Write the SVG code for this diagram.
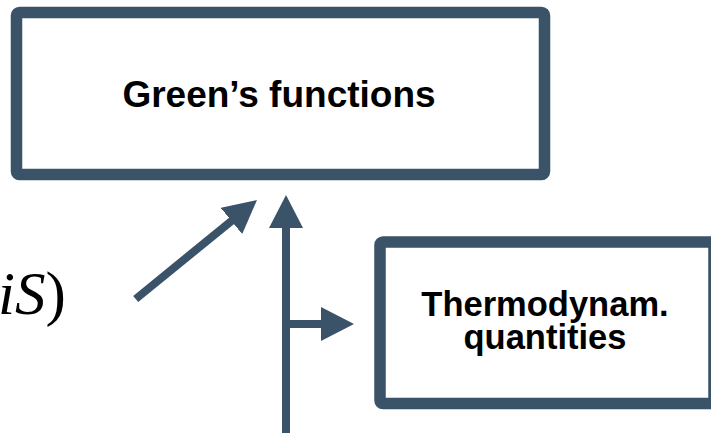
<svg xmlns="http://www.w3.org/2000/svg" width="711" height="433" viewBox="0 0 711 433">
  <style>
    .box { fill: #ffffff; stroke: #3a5369; stroke-width: 11.5; }
    .label { font-family: "Liberation Sans", Arial, sans-serif; font-weight: bold; fill: #000000; text-anchor: middle; }
    .edge { stroke: #3a5369; stroke-width: 8; fill: none; }
    .math { font-family: "Liberation Serif", "Times New Roman", serif; fill: #000000; }
  </style>
  <defs>
    <marker id="head" viewBox="0 0 33 34" markerUnits="userSpaceOnUse" markerWidth="33" markerHeight="34" refX="1" refY="17" orient="auto">
      <path d="M0,0 L33,17 L0,34 z" fill="#3a5369"/>
    </marker>
  </defs>

  <rect width="711" height="433" fill="#ffffff"/>

  <!-- partial formula on the left edge -->
  <g id="formula">
    <text class="math" x="-2" y="314" font-size="61"><tspan font-style="italic">iS</tspan>)</text>
  </g>

  <!-- Green's functions -->
  <g id="greens-functions">
    <rect class="box" x="16.5" y="12.5" width="528" height="162" rx="3"/>
    <text class="label" x="279" y="107" font-size="37">Green’s functions</text>
  </g>

  <!-- Thermodynamic quantities -->
  <g id="thermo-quantities">
    <rect class="box" x="380" y="242" width="334" height="161.5" rx="3"/>
    <text class="label" x="545" y="316" font-size="34.5">Thermodynam.</text>
    <text class="label" x="545" y="349" font-size="34.5">quantities</text>
  </g>

  <!-- connectors -->
  <g id="connectors">
    <line class="edge" x1="135.7" y1="299" x2="232.2" y2="220.3" marker-end="url(#head)"/>
    <line class="edge" x1="286" y1="440" x2="286" y2="227" marker-end="url(#head)"/>
    <line class="edge" x1="286" y1="324" x2="322" y2="324" marker-end="url(#head)"/>
  </g>
</svg>
